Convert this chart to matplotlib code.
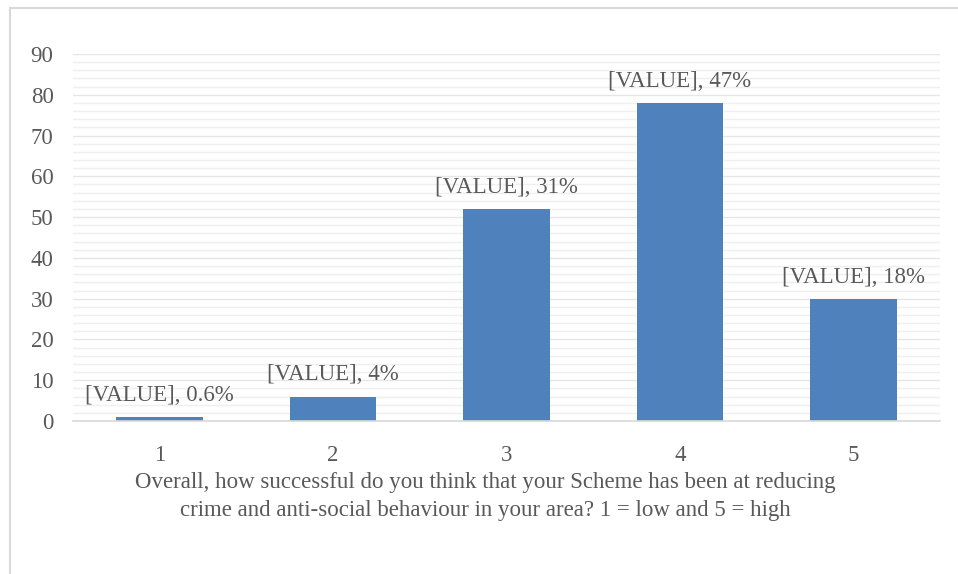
import matplotlib
matplotlib.use("Agg")
import matplotlib.pyplot as plt
from matplotlib.patches import Rectangle
from matplotlib.ticker import MultipleLocator

categories = ["1", "2", "3", "4", "5"]
values = [1, 6, 52, 78, 30]
pct_labels = ["[VALUE], 0.6%", "[VALUE], 4%", "[VALUE], 31%", "[VALUE], 47%", "[VALUE], 18%"]
xlabel = ("Overall, how successful do you think that your Scheme has been at reducing\n"
          "crime and anti-social behaviour in your area? 1 = low and 5 = high")

W, H = 958, 574
fig = plt.figure(figsize=(W / 100, H / 100), dpi=100)
plt.rcParams['font.family'] = ['Liberation Serif', 'DejaVu Serif']
txt = '#595959'
fs = 16.5

# outer frame (cropped at right and bottom)
fig.patches.append(Rectangle((9.5 / W, -0.1), 1.2, 1 - 8 / H + 0.1, transform=fig.transFigure,
                             fill=False, edgecolor='#d9d9d9', linewidth=1.5))

ax = fig.add_axes([73 / W, 1 - 421 / H, (940 - 73) / W, (421 - 54) / H])
x = list(range(len(categories)))
ax.bar(x, values, width=0.5, color='#4f81bd', zorder=3)
ax.set_xlim(-0.5, 4.5)
ax.set_ylim(0, 90)
ax.yaxis.set_major_locator(MultipleLocator(10))
ax.yaxis.set_minor_locator(MultipleLocator(2))
ax.grid(axis='y', which='major', color='#e6e6e6', linewidth=1.0, zorder=0)
ax.grid(axis='y', which='minor', color='#efefef', linewidth=1.0, zorder=0)
for s in ['top', 'right', 'left']:
    ax.spines[s].set_visible(False)
ax.spines['bottom'].set_color('#d9d9d9')
ax.spines['bottom'].set_linewidth(1.2)
ax.spines['bottom'].set_zorder(4)
ax.set_xticks(x)
ax.set_xticklabels(categories)
ax.tick_params(axis='both', which='both', length=0, labelsize=fs, labelcolor=txt)
ax.tick_params(axis='y', pad=14)
ax.tick_params(axis='x', pad=17)
for xi, v, lab in zip(x, values, pct_labels):
    ax.annotate(lab, (xi, v), xytext=(0, 8), textcoords='offset points',
                ha='center', va='bottom', fontsize=fs, color=txt)
fig.text(485 / W, 1 - 496.5 / H, xlabel, fontsize=fs, color=txt, ha='center', va='center',
         multialignment='center', linespacing=1.4)

fig.savefig('out.png', dpi=100)
